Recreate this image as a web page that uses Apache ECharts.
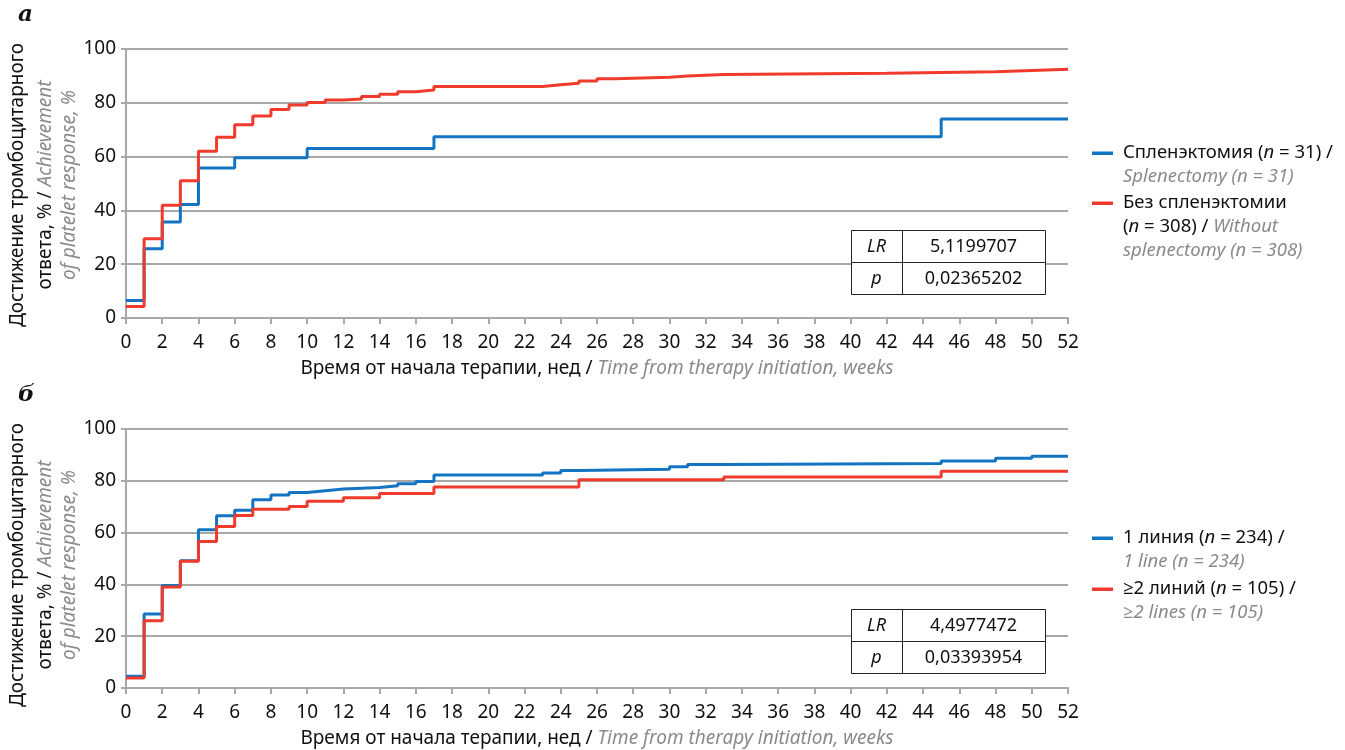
<!DOCTYPE html>
<html>
<head>
<meta charset="utf-8">
<title>Достижение тромбоцитарного ответа</title>
<script src="https://cdn.jsdelivr.net/npm/echarts/dist/echarts.min.js"></script>
<style>
  html, body { margin: 0; padding: 0; background: #ffffff; }
  #chart { width: 1345px; height: 750px; }
</style>
</head>
<body>
<div id="chart"></div>
<script>
// Weeks axis ticks (0..52 step 2) and cumulative response, %
const weekTicks = [0, 2, 4, 6, 8, 10, 12, 14, 16, 18, 20, 22, 24, 26, 28, 30, 32, 34, 36, 38, 40, 42, 44, 46, 48, 50, 52];
const percentTicks = [0, 20, 40, 60, 80, 100];

// Panel а: splenectomy vs no splenectomy
const splenT = [0, 1, 2, 3, 4, 6, 10, 17, 45, 52];
const splenV = [6.5, 25.7, 35.7, 42.2, 55.8, 59.6, 63.0, 67.4, 74.0, 74.0];
const noSplenT = [0, 1, 2, 3, 4, 5, 6, 7, 8, 9, 10, 11, 12, 13, 14, 15, 16, 17, 23, 24, 25, 26, 27, 30, 31, 33, 42, 48, 50, 52];
const noSplenV = [4.3, 29.5, 41.9, 51.0, 62.0, 67.2, 71.8, 75.1, 77.5, 79.2, 80.1, 81.0, 81.4, 82.3, 83.2, 84.1, 84.8, 86.1, 86.7, 87.3, 88.1, 88.9, 89.5, 90.0, 90.5, 91.0, 91.5, 92.0, 92.5, 92.5];

// Panel б: 1 line vs ≥2 lines of therapy
const line1T = [0, 1, 2, 3, 4, 5, 6, 7, 8, 9, 10, 11, 12, 14, 15, 16, 17, 23, 24, 25, 30, 31, 33, 45, 48, 50, 52];
const line1V = [4.5, 28.6, 39.6, 49.1, 61.1, 66.5, 68.6, 72.7, 74.5, 75.5, 76.2, 76.8, 77.4, 78.1, 78.9, 79.7, 82.2, 83.0, 84.0, 84.5, 85.4, 86.3, 86.7, 87.6, 88.7, 89.5, 89.5];
const line2T = [0, 1, 2, 3, 4, 5, 6, 7, 9, 10, 12, 14, 17, 25, 33, 45, 52];
const line2V = [3.9, 26.0, 39.0, 48.9, 56.6, 62.4, 66.6, 69.0, 70.1, 72.1, 73.5, 75.1, 77.6, 80.4, 81.5, 83.7, 83.7];

// Log-rank test results
const statsA = { LR: '5,1199707', p: '0,02365202' };
const statsB = { LR: '4,4977472', p: '0,03393954' };

const BLUE = '#1274c2';
const RED = '#f03a2c';
const GRAY_TEXT = '#8a8a8a';
const GRID_GRAY = '#a8a8a8';
const FONT = '"Noto Sans", "Open Sans", sans-serif';
const FS = 19;

const pairs = (t, v) => t.map((x, i) => [x, v[i]]);

const chart = echarts.init(document.getElementById('chart'), null, { renderer: 'canvas' });

function xAxisFor(gridIndex) {
  return {
    type: 'value', gridIndex, min: 0, max: 52, interval: 2,
    axisLine: { show: true, lineStyle: { color: GRID_GRAY, width: 2 } },
    axisTick: { show: true, length: 6, lineStyle: { color: GRID_GRAY, width: 2 } },
    axisLabel: {
      margin: 15, color: '#111', fontFamily: FONT, fontSize: FS,
      formatter: v => (weekTicks.includes(v) ? String(v) : '')
    },
    splitLine: { show: false },
    name: '{b|Время от начала терапии, нед / }{g|Time from therapy initiation, weeks}',
    nameLocation: 'middle', nameGap: 41,
    nameTextStyle: {
      rich: {
        b: { color: '#111', fontFamily: FONT, fontSize: FS },
        g: { color: GRAY_TEXT, fontFamily: FONT, fontSize: FS, fontStyle: 'italic' }
      }
    }
  };
}

function yAxisFor(gridIndex) {
  return {
    type: 'value', gridIndex, min: 0, max: 100, interval: 20,
    axisLine: { show: true, lineStyle: { color: GRID_GRAY, width: 2 } },
    axisTick: { show: true, length: 5, lineStyle: { color: GRID_GRAY, width: 2 } },
    axisLabel: {
      margin: 10, color: '#111', fontFamily: FONT, fontSize: FS,
      formatter: v => (percentTicks.includes(v) ? String(v) : '')
    },
    splitLine: { show: true, lineStyle: { color: GRID_GRAY, width: 2 } }
  };
}

function kmSeries(name, data, color, idx) {
  return {
    name, type: 'line', step: 'end', data,
    xAxisIndex: idx, yAxisIndex: idx,
    showSymbol: false, symbol: 'none',
    lineStyle: { color, width: 3 },
    itemStyle: { color },
    animation: false, z: 3
  };
}

// graphic text uses zrender styles (fill rather than color)
const rich = {
  b: { fill: '#111', fontFamily: FONT, fontSize: 18.5 },
  bi: { fill: '#111', fontFamily: FONT, fontSize: 18.5, fontStyle: 'italic' },
  g: { fill: GRAY_TEXT, fontFamily: FONT, fontSize: 18.5, fontStyle: 'italic' }
};
const richTitle = {
  b: { fill: '#111', fontFamily: FONT, fontSize: FS },
  g: { fill: GRAY_TEXT, fontFamily: FONT, fontSize: FS, fontStyle: 'italic' }
};

function yTitle(cy) {
  const cols = [
    { x: 18, text: '{b|Достижение тромбоцитарного}' },
    { x: 46, text: '{b|ответа, % / }{g|Achievement}' },
    { x: 70, text: '{g|of platelet response, %}' }
  ];
  return cols.map(c => ({
    type: 'text', x: c.x, y: cy, rotation: Math.PI / 2,
    style: { text: c.text, rich: richTitle, align: 'center', verticalAlign: 'middle' }
  }));
}

function legendBlock(x, items) {
  const els = [];
  items.forEach(it => {
    els.push({
      type: 'rect', shape: { x: x, y: it.y - 1.5, width: 21, height: 3.5 },
      style: { fill: it.color }
    });
    els.push({
      type: 'text', x: x + 31, y: it.y - 12.5,
      style: { text: it.text, rich, align: 'left', verticalAlign: 'top', lineHeight: 24 }
    });
  });
  return els;
}

function statsTable(x, y, s) {
  const w1 = 51, w2 = 143, h = 32;
  const border = { stroke: '#222', lineWidth: 1, fill: '#ffffff' };
  const cellText = (cx, cy, t, italic) => ({
    type: 'text', x: cx, y: cy, z: 12,
    style: {
      text: t, align: 'center', verticalAlign: 'middle',
      fontFamily: FONT, fontSize: 18, fill: '#111', fontStyle: italic ? 'italic' : 'normal'
    }
  });
  return [
    { type: 'rect', shape: { x: x + 0.5, y: y + 0.5, width: w1 + w2, height: 2 * h }, style: border, z: 10 },
    { type: 'line', shape: { x1: x, y1: y + h + 0.5, x2: x + w1 + w2, y2: y + h + 0.5 }, style: { stroke: '#222', lineWidth: 1 }, z: 11 },
    { type: 'line', shape: { x1: x + w1 + 0.5, y1: y, x2: x + w1 + 0.5, y2: y + 2 * h }, style: { stroke: '#222', lineWidth: 1 }, z: 11 },
    cellText(x + w1 / 2, y + h / 2 + 1, 'LR', true),
    cellText(x + w1 + w2 / 2, y + h / 2 + 1, s.LR, false),
    cellText(x + w1 / 2, y + 1.5 * h + 1, 'p', true),
    cellText(x + w1 + w2 / 2, y + 1.5 * h + 1, s.p, false)
  ];
}

const panelLetter = (y, t) => ({
  type: 'text', x: 18, y,
  style: {
    text: t, align: 'left', verticalAlign: 'middle',
    fontFamily: '"DejaVu Serif", "Liberation Serif", serif', fontSize: 23,
    fontWeight: 'bold', fontStyle: 'italic', fill: '#111'
  }
});

const option = {
  backgroundColor: '#ffffff',
  animation: false,
  grid: [
    { left: 126, top: 49, width: 942, height: 269 },
    { left: 126, top: 429, width: 942, height: 259 }
  ],
  xAxis: [xAxisFor(0), xAxisFor(1)],
  yAxis: [yAxisFor(0), yAxisFor(1)],
  series: [
    kmSeries('Спленэктомия', pairs(splenT, splenV), BLUE, 0),
    kmSeries('Без спленэктомии', pairs(noSplenT, noSplenV), RED, 0),
    kmSeries('1 линия', pairs(line1T, line1V), BLUE, 1),
    kmSeries('≥2 линий', pairs(line2T, line2V), RED, 1)
  ],
  graphic: [
    panelLetter(15, 'а'),
    panelLetter(395, 'б'),
    ...yTitle(185),
    ...yTitle(565),
    ...legendBlock(1092, [
      { y: 153, color: BLUE, text: '{b|Спленэктомия (}{bi|n}{b| = 31) /}\n{g|Splenectomy (n = 31)}' },
      { y: 203, color: RED, text: '{b|Без спленэктомии}\n{b|(}{bi|n}{b| = 308) / }{g|Without}\n{g|splenectomy (n = 308)}' }
    ]),
    ...legendBlock(1092, [
      { y: 538, color: BLUE, text: '{b|1 линия (}{bi|n}{b| = 234) /}\n{g|1 line (n = 234)}' },
      { y: 589, color: RED, text: '{b|≥2 линий (}{bi|n}{b| = 105) /}\n{g|≥2 lines (n = 105)}' }
    ]),
    ...statsTable(851, 230, statsA),
    ...statsTable(851, 609, statsB)
  ]
};

chart.setOption(option);
</script>
</body>
</html>
